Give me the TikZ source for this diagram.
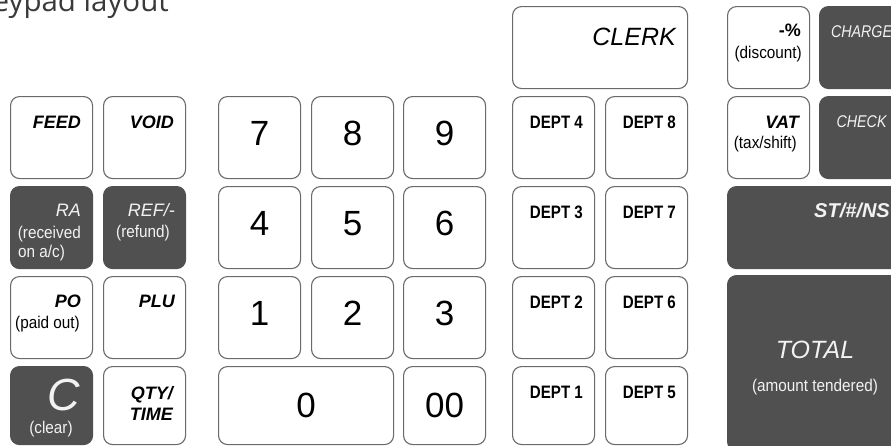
\documentclass[tikz,border=0pt]{standalone}
\usepackage{fontspec}
\setmainfont{Liberation Sans}
\newfontfamily\condfont[FakeStretch=0.84]{Liberation Sans}
\newfontfamily\subfont[FakeStretch=0.9]{Liberation Sans}
\newfontfamily\titlefont{Open Sans}
\definecolor{keydark}{HTML}{505050}
\definecolor{keyline}{HTML}{6A6A6A}
\definecolor{keytext}{HTML}{F2F2F2}
\definecolor{titlegray}{HTML}{3A3A3A}
\tikzset{
  wkey/.style={draw=keyline, line width=1.1pt, rounded corners=9pt, fill=white,
    anchor=north west, inner sep=0pt, minimum width=82pt, minimum height=82pt},
  dkey/.style={wkey, fill=keydark, draw=keydark},
  lab/.style={inner sep=0pt, anchor=base east, font=\bfseries\itshape\fontsize{18}{18}\selectfont},
  dlab/.style={inner sep=0pt, anchor=base east, text=keytext, font=\itshape\fontsize{18}{18}\selectfont},
  sub/.style={inner sep=0pt, anchor=base east, font=\subfont\fontsize{17}{17}\selectfont},
  dsub/.style={sub, text=keytext},
  digit/.style={inner sep=0pt, anchor=base, font=\fontsize{35}{35}\selectfont},
  dept/.style={inner sep=0pt, anchor=base east, font=\condfont\bfseries\fontsize{18}{18}\selectfont}
}
\begin{document}
\begin{tikzpicture}[x=1pt,y=-1pt]
\useasboundingbox (0,0) rectangle (891,445);
\clip (0,0) rectangle (891,445);

% title
\node[anchor=base east, inner sep=0pt, text=titlegray, font=\titlefont\fontsize{29.5}{29.5}\selectfont] (title) at (169,11) {Keypad layout};

% left function keys
\node[wkey] (feed) at (10,96) {};
\node[wkey] (void) at (103,96) {};
\node[dkey] (ra) at (10,186) {};
\node[dkey] (ref) at (103,186) {};
\node[wkey] (po) at (10,276) {};
\node[wkey] (plu) at (103,276) {};
\node[dkey, minimum height=78pt] (clr) at (10,366) {};
\node[wkey, minimum height=78pt] (qty) at (103,366) {};

\node[lab] (tfeed) at (81,128) {FEED};
\node[lab] (tvoid) at (174,128) {VOID};
\node[dlab] (tra) at (81,216) {RA};
\node[dsub] (tra2) at (81,238) {(received};
\node[dsub, anchor=base west] (tra3) at (18,257) {on a/c)};
\node[dlab] (tref) at (175,216) {REF/-};
\node[dsub, anchor=base west] (tref2) at (116,237) {(refund)};
\node[lab] (tpo) at (81,307) {PO};
\node[sub] (tpo2) at (80,328) {(paid out)};
\node[lab] (tplu) at (175,307) {PLU};
\node[inner sep=0pt, anchor=base east, text=keytext, font=\itshape\fontsize{45}{45}\selectfont] (tclr) at (80,410) {C};
\node[dsub, anchor=base] (tclr2) at (51,433) {(clear)};
\node[lab] (tqty) at (173,399) {QTY/};
\node[lab] (ttime) at (173,420) {TIME};

% numeric keys
\node[wkey] (k7) at (218,96) {};
\node[wkey] (k8) at (311,96) {};
\node[wkey] (k9) at (403,96) {};
\node[wkey] (k4) at (218,186) {};
\node[wkey] (k5) at (311,186) {};
\node[wkey] (k6) at (403,186) {};
\node[wkey] (k1) at (218,276) {};
\node[wkey] (k2) at (311,276) {};
\node[wkey] (k3) at (403,276) {};
\node[wkey, minimum width=175pt, minimum height=78pt] (k0) at (218,366) {};
\node[wkey, minimum height=78pt] (k00) at (403,366) {};
\foreach \k/\t in {k7/7,k8/8,k9/9,k4/4,k5/5,k6/6,k1/1,k2/2,k3/3}
  \node[digit] (t\k) at ([yshift=-49pt]\k.north) {\t};
\node[digit] (tk0) at ([yshift=-51pt]k0.north) {0};
\node[digit] (tk00) at ([yshift=-51pt]k00.north) {00};

% department keys
\node[wkey, minimum width=175pt] (clerk) at (512,6) {};
\node[inner sep=0pt, anchor=base east, font=\itshape\fontsize{25}{25}\selectfont] (tclerk) at (676,45) {CLERK};
\node[wkey] (d4) at (512,96) {};
\node[wkey] (d8) at (605,96) {};
\node[wkey] (d3) at (512,186) {};
\node[wkey] (d7) at (605,186) {};
\node[wkey] (d2) at (512,276) {};
\node[wkey] (d6) at (605,276) {};
\node[wkey, minimum height=78pt] (d1) at (512,366) {};
\node[wkey, minimum height=78pt] (d5) at (605,366) {};
\foreach \d/\t in {d4/4,d8/8,d3/3,d7/7,d2/2,d6/6,d1/1,d5/5}
  \node[dept] (t\d) at ([xshift=-12pt,yshift=-32pt]\d.north east) {DEPT \t};

% right keys
\node[wkey] (disc) at (727,6) {};
\node[dkey, minimum width=84pt] (charge) at (819,6) {};
\node[wkey] (vat) at (727,96) {};
\node[dkey, minimum width=84pt] (check) at (819,96) {};
\node[dkey, minimum width=176pt] (st) at (727,186) {};
\node[dkey, minimum width=176pt, minimum height=175pt] (total) at (727,275) {};

\node[inner sep=0pt, anchor=base east, font=\bfseries\fontsize{18}{18}\selectfont] (tdisc) at (801,36) {-\%};
\node[sub] (tdisc2) at (802,58) {(discount)};
\node[lab] (tvat) at (799,128) {VAT};
\node[sub] (tvat2) at (797,148) {(tax/shift)};
\node[inner sep=0pt, anchor=base, text=keytext, font=\condfont\itshape\fontsize{17}{17}\selectfont] (tcharge) at ([yshift=-31pt]charge.north) {CHARGE};
\node[inner sep=0pt, anchor=base, text=keytext, font=\condfont\itshape\fontsize{17}{17}\selectfont] (tcheck) at ([yshift=-31pt]check.north) {CHECK};
\node[lab, text=keytext, font=\bfseries\itshape\fontsize{20}{20}\selectfont] (tst) at (890,217) {ST/\#/NS};
\node[inner sep=0pt, anchor=base, text=keytext, font=\itshape\fontsize{25}{25}\selectfont] (ttotal) at (815,358) {TOTAL};
\node[dsub, anchor=base] (ttotal2) at (815,391) {(amount tendered)};
\end{tikzpicture}
\end{document}
